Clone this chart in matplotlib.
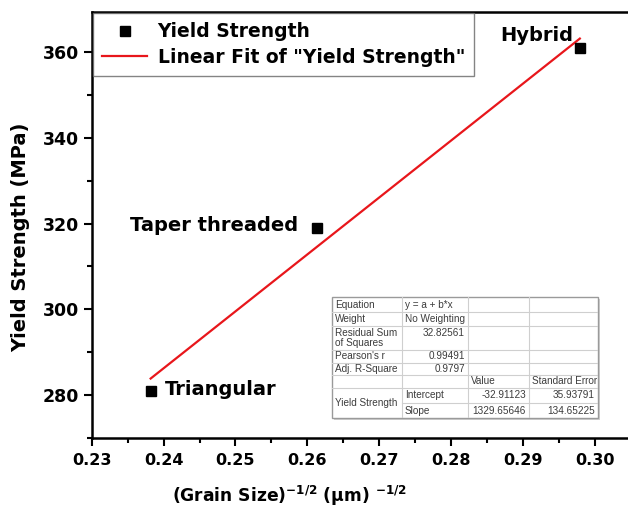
import numpy as np
import matplotlib
matplotlib.use("Agg")
from matplotlib import pyplot as plt
from matplotlib.ticker import MultipleLocator

# grain size^-1/2 vs yield strength for the three tool pin profiles
grain = [0.2382, 0.2613, 0.2979]
strength = [281.0, 319.0, 361.0]
profiles = ["Triangular", "Taper threaded", "Hybrid"]

# linear fit results
intercept = -32.91123
slope = 1329.65646

fit_rows = [
    ["Equation", "y = a + b*x", "", ""],
    ["Weight", "No Weighting", "", ""],
    ["Residual Sum\nof Squares", "32.82561", "", ""],
    ["Pearson's r", "0.99491", "", ""],
    ["Adj. R-Square", "0.9797", "", ""],
    ["", "", "Value", "Standard Error"],
    ["Yield Strength", "Intercept", "-32.91123", "35.93791"],
    ["", "Slope", "1329.65646", "134.65225"],
]

plt.rcParams['font.family'] = ['DejaVu Sans']
plt.rcParams['font.weight'] = 'bold'
plt.rcParams['mathtext.default'] = 'bf'

fig = plt.figure(figsize=(6.28, 5.15), dpi=100)
W, H = 628.0, 515.0
ax = fig.add_axes([91.7 / W, 1 - 437.7 / H, 1 - 91.7 / W, (437.7 - 12) / H])

ax.plot(grain, strength, 's', color='black', markersize=7, label='Yield Strength', zorder=3)
xf = np.array([min(grain), max(grain)])
ax.plot(xf, intercept + slope * xf, '-', color='#e8161b', lw=1.6,
        label='Linear Fit of "Yield Strength"', zorder=2)

ax.set_xlim(0.23, 0.3046)
ax.set_ylim(270, 369.4)
ax.xaxis.set_major_locator(MultipleLocator(0.01))
ax.xaxis.set_minor_locator(MultipleLocator(0.005))
ax.yaxis.set_major_locator(MultipleLocator(20))
ax.yaxis.set_minor_locator(MultipleLocator(10))
ax.xaxis.set_major_formatter(plt.FormatStrFormatter('%.2f'))

ax.spines['right'].set_visible(False)
for s in ['left', 'bottom', 'top']:
    ax.spines[s].set_linewidth(1.8)
ax.tick_params(which='major', length=6, width=1.5, direction='out')
ax.tick_params(axis='x', labelsize=11.5)
ax.tick_params(axis='y', labelsize=12.5)
ax.tick_params(which='minor', length=3.5, width=1.5, direction='out')
ax.tick_params(axis='x', which='major', pad=5)
ax.tick_params(axis='y', which='major', pad=3)
for lab in ax.get_xticklabels() + ax.get_yticklabels():
    lab.set_fontweight('bold')

ax.set_ylabel('Yield Strength (MPa)', fontsize=14, fontweight='bold')
ax.yaxis.set_label_coords(-0.115, 0.471)
ax.set_xlabel('(Grain Size)$^{-1/2}$ (μm) $^{-1/2}$', fontsize=12.3, fontweight='bold')
ax.xaxis.set_label_coords(0.368, -0.108)

offsets = {"Triangular": (10, 1, 'left'),
           "Taper threaded": (-13.5, 2, 'right'),
           "Hybrid": (-5, 9, 'right')}
for gx, sy, name in zip(grain, strength, profiles):
    dx, dy, ha = offsets[name]
    ax.annotate(name, (gx, sy), xytext=(dx, dy), textcoords='offset points',
                ha=ha, va='center', fontsize=14, fontweight='bold')

leg = ax.legend(loc='upper left', bbox_to_anchor=(93 / W, 1 - 13 / H),
                bbox_transform=fig.transFigure, frameon=True,
                fancybox=False, borderaxespad=0, handlelength=2.4,
                handletextpad=0.55, borderpad=0.5, labelspacing=0.35,
                prop={'weight': 'bold', 'size': 13.5})
leg.get_frame().set_edgecolor('#666666')
leg.get_frame().set_linewidth(1.0)

# fit summary table, laid out in pixel-like units
tax = fig.add_axes([332 / W, 1 - 418 / H, (598 - 332) / W, (418 - 297) / H])
tax.set_xlim(0, 266)
tax.set_ylim(121, 0)
tax.axis('off')
cols = [0, 70, 136, 197, 266]
rows = [0, 15, 29, 53, 65.5, 78, 91, 106, 121]
tax.add_patch(plt.Rectangle((1.5, 1.5), 266, 121, facecolor='#d0d0d0', edgecolor='none',
                            zorder=0, clip_on=False))
tax.add_patch(plt.Rectangle((0, 0), 266, 121, facecolor='white', edgecolor='#9a9a9a',
                            lw=1.0, zorder=1, clip_on=False))
grid_c = '#cfcfcf'
for c in cols[1:-1]:
    tax.plot([c, c], [0, 121], color=grid_c, lw=0.8, zorder=2)
for i, r in enumerate(rows[1:-1], start=1):
    x0 = cols[1] if i == 7 else 0
    tax.plot([x0, 266], [r, r], color=grid_c, lw=0.8, zorder=2)

tfont = dict(family='Liberation Sans', fontsize=7.2, fontweight='normal', color='#3c3c3c', zorder=3)
for i, row in enumerate(fit_rows):
    top, bot = rows[i], rows[i + 1]
    for j, txt in enumerate(row):
        if not txt:
            continue
        numeric = txt[0].isdigit() or txt[0] == '-'
        if i == 6 and j == 0:
            tax.text(cols[0] + 3, rows[8] - (rows[8] - rows[6]) / 2, txt, ha='left', va='center', **tfont)
            continue
        if i == 2 and j == 0:
            tax.text(cols[0] + 3, top + 2, txt, ha='left', va='top', linespacing=1.05, **tfont)
            continue
        if i == 2 and j == 1:
            tax.text(cols[j + 1] - 3, top + 2, txt, ha='right', va='top', **tfont)
            continue
        if numeric:
            tax.text(cols[j + 1] - 3, (top + bot) / 2, txt, ha='right', va='center', **tfont)
        else:
            tax.text(cols[j] + 3, (top + bot) / 2, txt, ha='left', va='center', **tfont)

fig.savefig('out.png', dpi=100)
